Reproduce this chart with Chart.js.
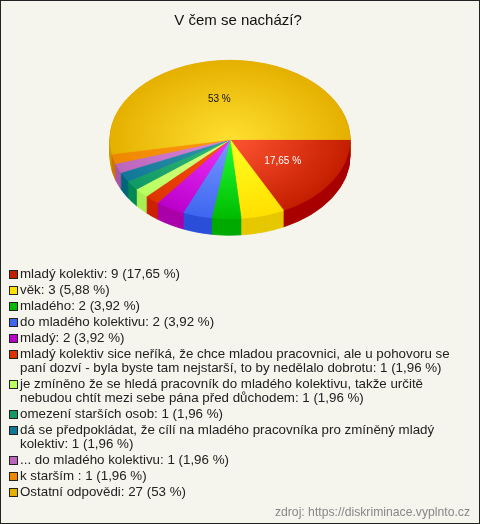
<!DOCTYPE html>
<html>
<head>
<meta charset="utf-8">
<script src="https://cdn.jsdelivr.net/npm/chart.js@4"></script>
<style>
	html, body { margin: 0; padding: 0; }
	body { width: 480px; height: 524px; overflow: hidden; background: #f5f4ed; font-family: "Liberation Sans", Arial, sans-serif; }
	#frame { position: relative; box-sizing: border-box; width: 480px; height: 524px; border: 1px solid #222; }
	#js_chart_canvas { position: absolute; left: -1px; top: -1px; }
	#js_legend { position: absolute; left: 9px; top: 266px; width: 448px; font-size: 13.33px; line-height: 14px; color: #222; }
	.row { position: relative; padding-left: 10px; margin-bottom: 2px; }
	.row i { position: absolute; left: -1px; top: 3px; box-sizing: border-box; width: 9px; height: 9px; border: 1px solid #222; }
	#js_source { position: absolute; right: 9px; top: 504px; font-size: 12.2px; line-height: 14px; color: #888; }
</style>
</head>
<body>
<div id="frame">
	<canvas id="js_chart_canvas" width="480" height="524"></canvas>
	<div id="js_legend"></div>
	<div id="js_source">zdroj: https://diskriminace.vyplnto.cz</div>
</div>
<script>

let chartTitle = "V čem se nachází?"
let categories = [
	"mladý kolektiv",
	"věk",
	"mladého",
	"do mladého kolektivu",
	"mladý",
	"mladý kolektiv sice neříká, že chce mladou pracovnici, ale u pohovoru se paní dozví - byla byste tam nejstarší, to by nedělalo dobrotu",
	"je zmíněno že se hledá pracovník do mladého kolektivu, takže určitě nebudou chtít mezi sebe pána před důchodem",
	"omezení starších osob",
	"dá se předpokládat, že cílí na mladého pracovníka pro zmíněný mladý kolektiv",
	"... do mladého kolektivu",
	"k starším ",
	"Ostatní odpovědi"
]
let seriesValues = [ 9, 3, 2, 2, 2, 1, 1, 1, 1, 1, 1, 27 ]
let percentLabels = [ "17,65 %", "5,88 %", "3,92 %", "3,92 %", "3,92 %", "1,96 %", "1,96 %", "1,96 %", "1,96 %", "1,96 %", "1,96 %", "53 %" ]

// centre of the slice, rim of the slice, side wall, legend box
let innerColors = [ "#ff5533", "#ffff22", "#22ff33", "#7799ff", "#ee33ff", "#ff5511", "#ddff88", "#33bb77", "#3399aa", "#dd88dd", "#ff9911", "#ffe030" ]
let outerColors = [ "#c41e00", "#ffe000", "#00bb00", "#3f66f0", "#bb00cc", "#dd3300", "#b8ff60", "#119966", "#117799", "#bb66bb", "#ee8800", "#e5b000" ]
let wallColors = [ "#a80000", "#e6c800", "#00aa00", "#2b4fd9", "#aa00aa", "#cc2200", "#a8ee55", "#008855", "#006677", "#aa55aa", "#cc7700", "#cc9900" ]

const pieCentreX = 230
const pieCentreY = 139.5
const pieRadius = 120
const tilt = 0.66
const depth = 16.5

function sliceGradient ( context ) {
	let area = context.chart.chartArea
	if ( !area )
		return outerColors[ context.dataIndex ]
	let x = ( area.left + area.right ) / 2
	let y = ( area.top + area.bottom ) / 2
	let gradient = context.chart.ctx.createRadialGradient( x, y, 0, x, y, pieRadius )
	gradient.addColorStop( 0, innerColors[ context.dataIndex ] )
	gradient.addColorStop( 1, outerColors[ context.dataIndex ] )
	return gradient
}

/*
 |
 | Flatten the pie into an ellipse and give it a side wall
 |
 */
let tiltedPie = {
	id: "tiltedPie",
	beforeDatasetsDraw ( chart ) {
		let ctx = chart.ctx
		let arcs = chart.getDatasetMeta( 0 ).data
		ctx.save()
		ctx.translate( pieCentreX, pieCentreY )
		ctx.scale( 1, tilt )
		ctx.translate( -arcs[ 0 ].x, -arcs[ 0 ].y )
		for ( let d = depth; d > 0; d -= 1 ) {
			arcs.forEach( function ( arc, index ) {
				let wall = new Chart.ArcElement( {
					x: arc.x,
					y: arc.y + d / tilt,
					startAngle: arc.startAngle,
					endAngle: arc.endAngle,
					circumference: arc.circumference,
					innerRadius: 0,
					outerRadius: arc.outerRadius,
					options: Object.assign( {}, arc.options, {
						backgroundColor: wallColors[ index ],
						borderColor: wallColors[ index ],
						borderWidth: 1
					} )
				} )
				wall.draw( ctx )
			} )
		}
	},
	afterDatasetsDraw ( chart ) {
		let ctx = chart.ctx
		ctx.restore()

		// Only the two big slices carry a label
		let arcs = chart.getDatasetMeta( 0 ).data
		ctx.save()
		ctx.font = "10px 'Liberation Sans'"
		ctx.textAlign = "center"
		ctx.textBaseline = "middle"
		arcs.forEach( function ( arc, index ) {
			if ( seriesValues[ index ] < 5 )
				return
			let midAngle = ( arc.startAngle + arc.endAngle ) / 2
			let nudge = index === 0 ? 0 : -5
			ctx.fillStyle = index === 0 ? "#fff" : "#111"
			ctx.fillText(
				percentLabels[ index ],
				pieCentreX + Math.cos( midAngle ) * 62 + nudge,
				pieCentreY + Math.sin( midAngle ) * 62 * tilt
			)
		} )
		ctx.restore()
	}
}

let chartConfig = {
	type: "pie",
	data: {
		labels: categories,
		datasets: [ {
			data: seriesValues,
			radius: pieRadius,
			rotation: 90,
			clip: false,
			borderWidth: 1,
			backgroundColor: sliceGradient,
			borderColor: sliceGradient
		} ]
	},
	options: {
		responsive: false,
		animation: false,
		layout: { padding: { right: 4 } },
		plugins: {
			legend: { display: false },
			tooltip: { enabled: false },
			title: {
				display: true,
				text: chartTitle,
				color: "#111",
				font: { family: "'Liberation Sans'", size: 15, weight: "normal" },
				padding: { top: 12, bottom: 10 }
			}
		}
	},
	plugins: [ tiltedPie ]
}

let chart = new Chart( document.getElementById( "js_chart_canvas" ), chartConfig )

// The legend wraps long answers onto two lines, so it is plain HTML
let legendElement = document.getElementById( "js_legend" )
categories.forEach( function ( category, index ) {
	let row = document.createElement( "div" )
	row.className = "row"
	let box = document.createElement( "i" )
	box.style.background = outerColors[ index ]
	row.appendChild( box )
	row.appendChild( document.createTextNode( `${category}: ${seriesValues[ index ]} (${percentLabels[ index ]})` ) )
	legendElement.appendChild( row )
} )

</script>
</body>
</html>
